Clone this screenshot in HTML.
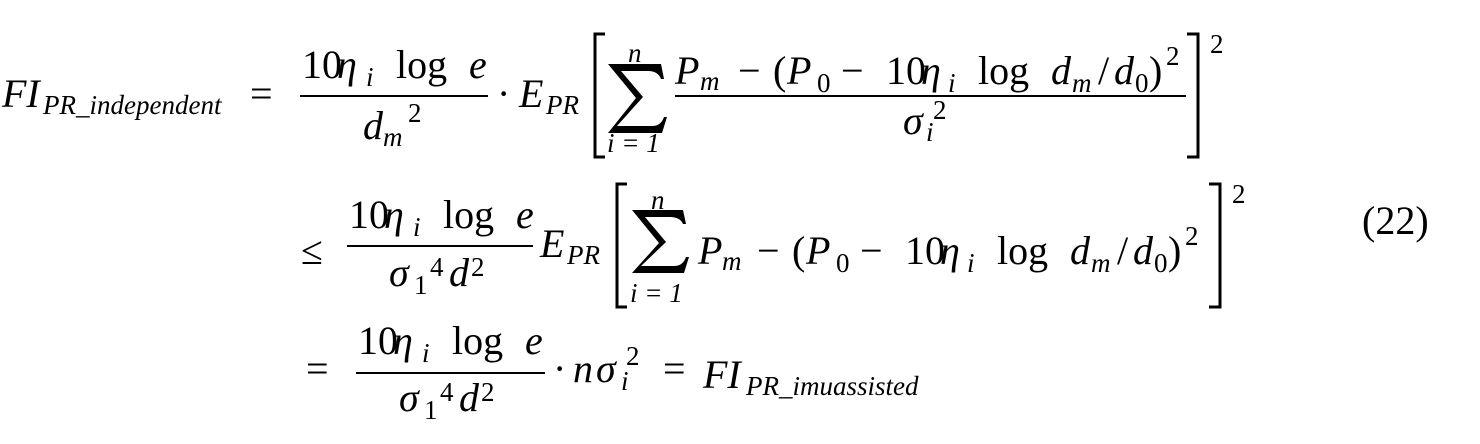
<!DOCTYPE html>
<html><head><meta charset="utf-8"><style>
html,body{margin:0;padding:0;background:#fff;}
#c{position:relative;width:1480px;height:444px;overflow:hidden;font-family:"Liberation Serif","Tinos","Times New Roman","Nimbus Roman","Nimbus Roman No9 L","FreeSerif","DejaVu Serif Condensed","DejaVu Serif",serif;color:#000;}
#c span{position:absolute;white-space:pre;line-height:normal;}
.b{font-size:40px;}
.s{font-size:27px;}
.i{font-style:italic;}
#c svg{position:absolute;left:0;top:0;}
</style></head><body>
<div id="c">
<svg width="1480" height="444" viewBox="0 0 1480 444">
<g fill="#000">
<rect x="300" y="95" width="188" height="2"/>
<rect x="675" y="95" width="511" height="2"/>
<rect x="347" y="245" width="186" height="2"/>
<rect x="356" y="372" width="189" height="2"/>
<path d="M608 64 H661 L664 79 H661 Q658 71 648 71 H621 L643 97 L617 126 H652 Q661 126 664 117 H667 L662 133 H608 L636 98 Z"/>
<path d="M632 210 H683 L686 224 H683 Q680 217 670 217 H645 L666 242 L641 266 H674 Q683 266 686 257 H689 L684 273 H632 L659 243 Z"/>
</g>
<g fill="none" stroke="#000" stroke-width="3">
<path d="M605 34 H595 V157 H605"/>
<path d="M1187 34 H1198 V157 H1187"/>
<path d="M627 184 H617 V307 H627"/>
<path d="M1209 184 H1220 V307 H1209"/>
</g>
</svg>
<!-- Row 1 -->
<span class="b i" style="left:2px;top:70px">FI</span>
<span class="s i" style="left:43px;top:90px">PR_independent</span>
<span class="b" style="left:250px;top:70px">=</span>
<span class="b" style="left:302px;top:41px">10</span>
<span class="b i" style="left:337px;top:41px">η</span>
<span class="s i" style="left:366px;top:62px">i</span>
<span class="b" style="left:396px;top:41px">log</span>
<span class="b i" style="left:469px;top:41px">e</span>
<span class="b i" style="left:363px;top:102px">d</span>
<span class="s i" style="left:383px;top:122px">m</span>
<span class="s" style="left:408px;top:98px">2</span>
<span class="b" style="left:497px;top:70px">·</span>
<span class="b i" style="left:519px;top:70px">E</span>
<span class="s i" style="left:546px;top:90px">PR</span>
<span class="s i" style="left:628px;top:38px">n</span>
<span class="s i" style="left:607px;top:128px">i = 1</span>
<span class="b i" style="left:675px;top:47px">P</span>
<span class="s i" style="left:700px;top:66px">m</span>
<span class="b" style="left:738px;top:47px">−</span>
<span class="b" style="left:773px;top:47px">(</span>
<span class="b i" style="left:787px;top:47px">P</span>
<span class="s" style="left:817px;top:68px">0</span>
<span class="b" style="left:841px;top:47px">−</span>
<span class="b" style="left:886px;top:47px">10</span>
<span class="b i" style="left:921px;top:47px">η</span>
<span class="s i" style="left:948px;top:68px">i</span>
<span class="b" style="left:978px;top:47px">log</span>
<span class="b i" style="left:1051px;top:47px">d</span>
<span class="s i" style="left:1072px;top:68px">m</span>
<span class="b" style="left:1098px;top:47px">/</span>
<span class="b i" style="left:1114px;top:47px">d</span>
<span class="s" style="left:1135px;top:68px">0</span>
<span class="b" style="left:1149px;top:47px">)</span>
<span class="s" style="left:1166px;top:41px">2</span>
<span class="b i" style="left:903px;top:97px">σ</span>
<span class="s i" style="left:926px;top:117px">i</span>
<span class="s" style="left:933px;top:95px">2</span>
<span class="s" style="left:1210px;top:29px">2</span>
<!-- Row 2 -->
<span class="b" style="left:301px;top:227px">≤</span>
<span class="b" style="left:349px;top:191px">10</span>
<span class="b i" style="left:384px;top:191px">η</span>
<span class="s i" style="left:413px;top:212px">i</span>
<span class="b" style="left:443px;top:191px">log</span>
<span class="b i" style="left:516px;top:191px">e</span>
<span class="b i" style="left:389px;top:249px">σ</span>
<span class="s" style="left:414px;top:270px">1</span>
<span class="s" style="left:430px;top:252px">4</span>
<span class="b i" style="left:449px;top:249px">d</span>
<span class="s" style="left:471px;top:252px">2</span>
<span class="b i" style="left:540px;top:220px">E</span>
<span class="s i" style="left:567px;top:240px">PR</span>
<span class="s i" style="left:651px;top:185px">n</span>
<span class="s i" style="left:630px;top:278px">i = 1</span>
<span class="b i" style="left:698px;top:227px">P</span>
<span class="s i" style="left:722px;top:246px">m</span>
<span class="b" style="left:757px;top:227px">−</span>
<span class="b" style="left:792px;top:227px">(</span>
<span class="b i" style="left:806px;top:227px">P</span>
<span class="s" style="left:836px;top:248px">0</span>
<span class="b" style="left:860px;top:227px">−</span>
<span class="b" style="left:905px;top:227px">10</span>
<span class="b i" style="left:940px;top:227px">η</span>
<span class="s i" style="left:967px;top:248px">i</span>
<span class="b" style="left:997px;top:227px">log</span>
<span class="b i" style="left:1070px;top:227px">d</span>
<span class="s i" style="left:1091px;top:248px">m</span>
<span class="b" style="left:1117px;top:227px">/</span>
<span class="b i" style="left:1133px;top:227px">d</span>
<span class="s" style="left:1154px;top:248px">0</span>
<span class="b" style="left:1168px;top:227px">)</span>
<span class="s" style="left:1185px;top:221px">2</span>
<span class="s" style="left:1232px;top:179px">2</span>
<span class="b" style="left:1362px;top:197px">(22)</span>
<!-- Row 3 -->
<span class="b" style="left:306px;top:345px">=</span>
<span class="b" style="left:358px;top:317px">10</span>
<span class="b i" style="left:393px;top:317px">η</span>
<span class="s i" style="left:422px;top:338px">i</span>
<span class="b" style="left:452px;top:317px">log</span>
<span class="b i" style="left:525px;top:317px">e</span>
<span class="b i" style="left:399px;top:374px">σ</span>
<span class="s" style="left:424px;top:395px">1</span>
<span class="s" style="left:440px;top:377px">4</span>
<span class="b i" style="left:459px;top:374px">d</span>
<span class="s" style="left:481px;top:377px">2</span>
<span class="b" style="left:553px;top:345px">·</span>
<span class="b i" style="left:573px;top:345px">n</span>
<span class="b i" style="left:596px;top:345px">σ</span>
<span class="s i" style="left:621px;top:366px">i</span>
<span class="s" style="left:626px;top:341px">2</span>
<span class="b" style="left:663px;top:345px">=</span>
<span class="b i" style="left:703px;top:351px">FI</span>
<span class="s i" style="left:746px;top:371px">PR_imuassisted</span>
</div>
</body></html>
